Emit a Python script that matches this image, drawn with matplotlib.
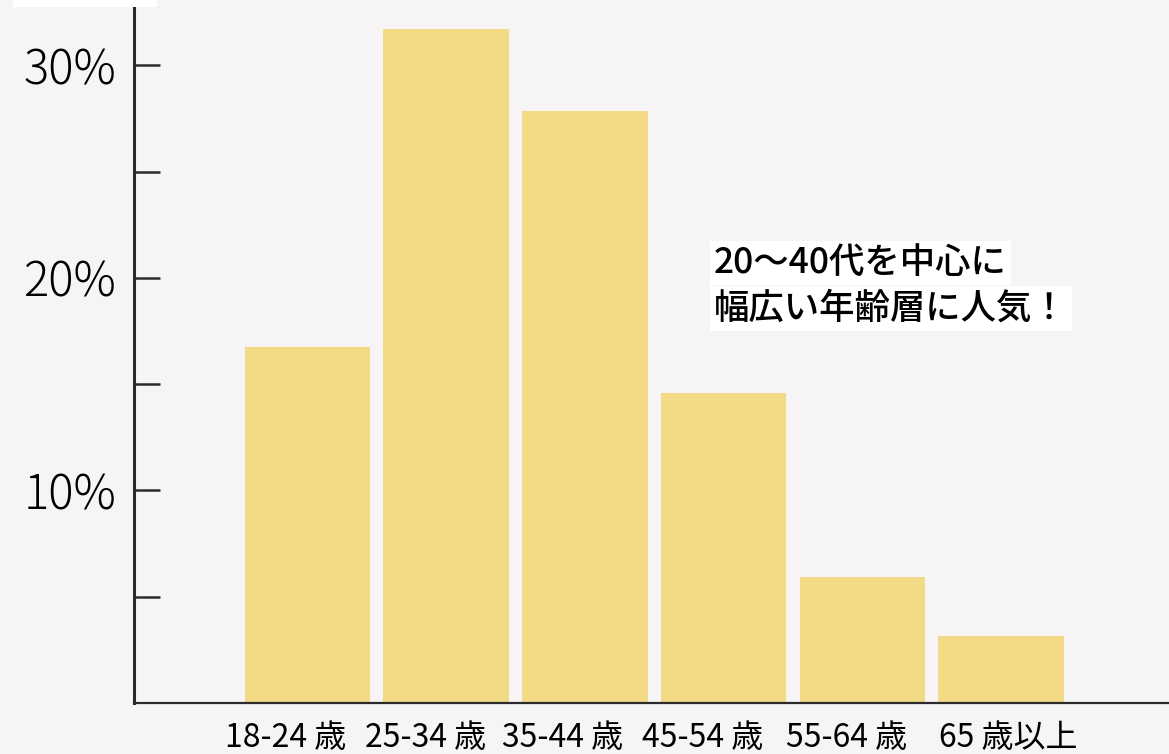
import numpy as np
import matplotlib
matplotlib.use("Agg")
from matplotlib import pyplot as plt
from matplotlib import transforms
from matplotlib.patches import Rectangle

plt.rcParams['font.family'] = ['Noto Sans CJK JP', 'DejaVu Sans']

# data
age_groups = ["18-24 歳", "25-34 歳", "35-44 歳", "45-54 歳", "55-64 歳", "65 歳以上"]
share_pct = [16.75, 31.7, 27.85, 14.6, 5.95, 3.15]
major_ticks = [10, 20, 30]
minor_ticks = [5, 15, 25]
note_lines = ["20〜40代を中心に", "幅広い年齢層に人気！"]

BG = "#f6f4f5"
BAR = "#f2da86"
INK = "#2b2b2b"
W, H = 1169, 754

fig = plt.figure(figsize=(W / 100, H / 100), dpi=100, facecolor=BG)
ax = fig.add_axes([134 / W, 51 / H, 1035 / W, 703 / H], facecolor=BG)

x = np.arange(len(age_groups))
ax.bar(x, share_pct, width=0.905, color=BAR, zorder=1)

ax.set_xlim(-1.25, 6.21)
ax.set_ylim(0, 33.08)

for side in ("top", "right"):
    ax.spines[side].set_visible(False)
ax.spines["left"].set_linewidth(2.2)
ax.spines["bottom"].set_linewidth(1.6)
for side in ("left", "bottom"):
    ax.spines[side].set_color(INK)
    ax.spines[side].set_zorder(3)

ax.set_yticks(major_ticks)
ax.set_yticklabels([f"{v}%" for v in major_ticks])
ax.set_yticks(minor_ticks, minor=True)
ax.tick_params(axis="y", which="both", direction="in", length=19, width=1.8,
               color=INK, pad=13, labelsize=34)
for lab in ax.get_yticklabels():
    lab.set_fontweight("light")

ax.set_xticks(x)
ax.set_xticklabels(age_groups)
ax.tick_params(axis="x", length=0, pad=14, labelsize=23)
# labels sit a little left of the bar centres in the original
shifts = [-22, -21, -22, -21, -16, 7]
for lab, dx in zip(ax.get_xticklabels(), shifts):
    lab.set_transform(lab.get_transform() +
                      transforms.ScaledTranslation(dx / 100, 0, fig.dpi_scale_trans))

# annotation, one white box per line
for i, line in enumerate(note_lines):
    fig.text(714 / W, 1 - (263 + i * 45.5) / H, line, fontsize=25.5, color="black",
             fontweight="medium", ha="left", va="center",
             bbox=dict(boxstyle="square,pad=0.12", facecolor="white", edgecolor="none"))

# white box cut off at the top-left corner
fig.patches.append(Rectangle((13 / W, 1 - 7 / H), 144 / W, 7 / H,
                             transform=fig.transFigure, facecolor="white",
                             edgecolor="none", zorder=5))

fig.savefig("out.png", dpi=100, facecolor=BG)
